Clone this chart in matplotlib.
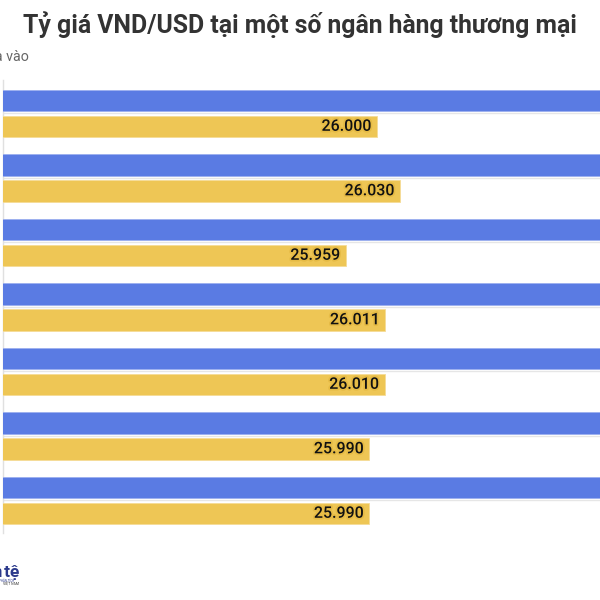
import matplotlib

matplotlib.use("Agg")

import matplotlib.pyplot as plt
import matplotlib.patheffects as pe
import numpy as np


BANKS = ["Ngân hàng 1", "Ngân hàng 2", "Ngân hàng 3", "Ngân hàng 4",
         "Ngân hàng 5", "Ngân hàng 6", "Ngân hàng 7"]
GIA_BAN = [26390, 26390, 26349, 26401, 26400, 26380, 26390]
GIA_MUA = [26000, 26030, 25959, 26011, 26010, 25990, 25990]

BLUE = "#5a7be3"
YELLOW = "#eec655"
OUTPUT_FILE = "out.png"


def fmt(v):
    return f"{v:,}".replace(",", ".")


def main():
    plt.rcParams["font.family"] = ["Roboto", "DejaVu Sans"]
    fig = plt.figure(figsize=(6, 6), dpi=100)

    # axes cut by the right edge, like the cropped original
    ax = fig.add_axes([2.5 / 600, 67 / 600, 597.5 / 600, 453 / 600])
    pos = np.arange(len(BANKS))
    off = 0.2016
    h = 0.333

    ax.barh(pos - off, GIA_BAN, height=h, color=BLUE, edgecolor="#9cb0ef",
            linewidth=0.6, zorder=3)
    ax.barh(pos + off, GIA_MUA, height=h, color=YELLOW, edgecolor="#f5dc96",
            linewidth=0.6, zorder=3)

    for p in pos:
        ax.axhline(p, color="#e6e6e6", linewidth=1.0, zorder=1)

    for p, v in zip(pos, GIA_MUA):
        ax.text(v - 7, p + off, fmt(v), ha="right", va="center",
                fontsize=11.5, color="#111111", fontweight="medium", zorder=4,
                path_effects=[pe.withStroke(linewidth=2.5, foreground="#e6bb45")])

    ax.set_xlim(25510, 26292)
    ax.set_ylim(6.507, -0.516)
    for side in ["top", "right", "bottom"]:
        ax.spines[side].set_visible(False)
    ax.spines["left"].set_color("#e0e0e0")
    ax.spines["left"].set_linewidth(1.0)
    ax.set_xticks([])
    ax.set_yticks([])

    fig.text(0.5, 1 - 25 / 600, "Tỷ giá VND/USD tại một số ngân hàng thương mại",
             ha="center", va="center", fontsize=17.8, fontweight="bold",
             color="#333333")
    fig.text(29 / 600, 1 - 57 / 600, "Giá mua vào", ha="right", va="center",
             fontsize=10.3, color="#666666")

    # logo, mostly cut off at the left
    fig.text(19.5 / 600, 1 - 577 / 600, "Tiền\u200atệ", ha="right", va="baseline",
             fontsize=12.5, fontweight="bold", color="#2c3a8c")
    fig.text(14 / 600, 1 - 580.5 / 600, "PHÂN TÍCH", ha="right",
             va="center", fontsize=2.2, color="#2c3a8c")
    fig.text(19 / 600, 1 - 584.5 / 600, "VIỆT NAM", ha="right",
             va="center", fontsize=2.5, color="#333333")

    fig.savefig(OUTPUT_FILE, dpi=100)
    plt.close(fig)


if __name__ == "__main__":
    main()
